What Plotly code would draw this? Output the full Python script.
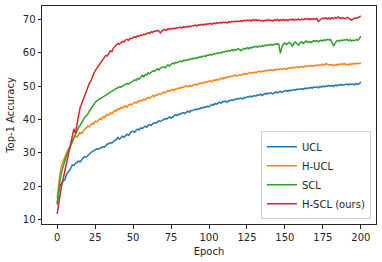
import plotly.graph_objects as go

epochs = list(range(201))

ucl = [
    15.0, 18.6, 20.4, 20.7, 21.6, 21.9, 23.4, 23.9, 24.7, 25.4,
    26.4, 26.2, 26.9, 27.1, 27.6, 27.3, 27.9, 28.6, 28.9, 28.7,
    29.2, 29.6, 30.1, 30.4, 30.6, 30.9, 31.2, 31.1, 31.4, 31.6,
    31.8, 31.7, 32.2, 32.6, 32.8, 33.1, 32.9, 33.5, 33.8, 34.0,
    34.6, 34.1, 34.5, 35.0, 34.7, 35.3, 35.6, 35.2, 36.0, 36.4,
    36.5, 36.2, 36.8, 37.1, 36.9, 37.5, 37.3, 37.8, 38.0, 37.7,
    38.3, 38.5, 38.2, 38.8, 39.0, 38.9, 39.3, 39.6, 39.4, 39.8,
    40.0, 40.3, 40.1, 40.5, 40.8, 40.4, 40.9, 41.1, 41.4, 41.2,
    41.6, 41.5, 41.9, 42.1, 41.8, 42.3, 42.5, 42.2, 42.7, 42.6,
    42.8, 43.1, 42.9, 43.3, 43.2, 43.6, 43.4, 43.8, 43.6, 44.0,
    43.8, 44.2, 44.5, 44.3, 44.8, 44.6, 45.0, 45.2, 44.9, 45.4,
    45.3, 45.5, 45.2, 45.7, 45.6, 45.9, 45.7, 46.1, 46.0, 46.3,
    46.2, 46.4, 46.1, 46.6, 46.5, 46.8, 46.7, 47.0, 46.8, 47.1,
    47.2, 47.0, 47.4, 47.3, 47.6, 47.2, 47.5, 47.8, 47.6, 47.9,
    47.8, 48.0, 47.7, 48.1, 48.3, 48.0, 48.2, 48.4, 48.1, 48.5,
    48.5, 48.7, 48.4, 48.8, 48.6, 48.9, 49.0, 48.8, 49.1, 49.0,
    49.1, 49.3, 49.0, 49.4, 49.2, 49.5, 49.3, 49.6, 49.4, 49.7,
    49.6, 49.8, 49.5, 49.9, 49.7, 50.0, 49.8, 50.1, 49.9, 50.2,
    50.0, 50.2, 49.9, 50.3, 50.1, 50.4, 50.2, 50.5, 50.3, 50.4,
    50.4, 50.6, 50.3, 50.7, 50.5, 50.6, 50.4, 50.8, 50.6, 50.7,
    51.2,
]

h_ucl = [
    16.5, 21.0, 24.2, 26.4, 27.6, 28.4, 30.1, 30.9, 31.6, 32.4,
    33.3, 34.6, 35.1, 34.7, 35.5, 36.1, 35.8, 36.6, 37.0, 37.4,
    38.0, 37.8, 38.4, 38.9, 38.6, 39.5, 39.3, 39.9, 40.2, 40.0,
    40.8, 40.6, 41.1, 41.5, 41.3, 42.0, 41.8, 42.4, 42.7, 42.5,
    43.3, 43.0, 43.6, 43.4, 43.9, 44.0, 43.7, 44.3, 44.6, 44.4,
    44.8, 45.2, 44.9, 45.5, 45.3, 45.8, 45.6, 46.1, 45.9, 46.3,
    46.6, 46.4, 46.9, 47.2, 46.8, 47.4, 47.3, 47.7, 47.5, 47.9,
    48.2, 48.0, 48.4, 48.7, 48.5, 48.8, 49.0, 48.7, 49.2, 49.1,
    49.5, 49.3, 49.7, 49.6, 49.9, 50.1, 49.8, 50.2, 50.0, 50.3,
    50.4, 50.6, 50.3, 50.8, 50.7, 51.0, 50.8, 51.2, 51.1, 51.3,
    51.4, 51.6, 51.3, 51.8, 51.7, 52.0, 51.8, 52.2, 52.4, 52.1,
    52.6, 52.4, 52.8, 52.7, 53.0, 52.8, 53.1, 53.3, 53.0, 53.2,
    53.4, 53.2, 53.6, 53.5, 53.8, 53.6, 53.9, 54.1, 53.8, 54.0,
    54.2, 54.0, 54.3, 54.5, 54.2, 54.6, 54.4, 54.7, 54.5, 54.8,
    54.7, 54.9, 54.6, 55.0, 54.8, 55.1, 54.9, 55.2, 55.0, 55.3,
    55.2, 55.0, 55.4, 55.3, 55.6, 55.4, 55.7, 55.5, 55.8, 55.6,
    55.7, 55.9, 55.6, 56.0, 55.8, 56.1, 55.9, 56.2, 56.0, 56.1,
    56.0, 56.3, 56.1, 56.4, 56.2, 56.6, 56.3, 56.8, 56.5, 56.3,
    56.3, 56.5, 56.1, 56.4, 56.2, 56.6, 56.4, 56.7, 56.5, 56.8,
    56.4, 56.6, 56.3, 56.7, 56.5, 56.8, 56.6, 56.9, 56.7, 56.8,
    56.9,
]

scl = [
    14.5, 18.6, 22.1, 24.4, 26.1, 27.4, 29.1, 29.9, 31.2, 32.0,
    33.6, 34.4, 35.6, 36.9, 37.6, 38.1, 39.0, 40.1, 40.6, 41.0,
    41.5, 42.4, 43.1, 44.0, 44.6, 45.1, 45.5, 45.9, 46.2, 46.4,
    46.7, 46.9, 47.3, 47.7, 47.9, 48.2, 48.5, 48.8, 49.1, 49.3,
    49.5, 49.8, 49.7, 50.1, 50.3, 50.5, 50.8, 50.6, 51.1, 51.3,
    51.5, 51.9, 51.7, 52.3, 52.1, 52.6, 53.2, 52.8, 53.5, 53.3,
    54.0, 53.7, 54.3, 54.6, 54.4, 54.9, 55.2, 54.8, 55.4, 55.6,
    55.8, 55.5, 56.1, 56.4, 56.0, 56.6, 56.9, 56.7, 57.1, 57.0,
    57.2, 57.5, 57.3, 57.7, 57.6, 57.9, 57.7, 58.1, 58.0, 58.3,
    58.2, 58.5, 58.3, 58.7, 58.6, 58.9, 58.8, 59.1, 58.9, 59.3,
    59.2, 59.5, 59.3, 59.7, 59.6, 59.9, 59.7, 60.1, 59.9, 60.3,
    60.2, 60.5, 60.3, 60.7, 60.5, 60.9, 60.6, 61.0, 60.8, 61.2,
    61.0, 60.6, 60.9, 61.3, 61.1, 61.5, 61.2, 61.6, 61.4, 61.8,
    61.7, 61.9, 61.6, 62.0, 61.8, 62.2, 61.9, 62.3, 62.1, 62.4,
    62.3, 62.5, 62.2, 62.6, 62.4, 62.7, 62.5, 59.8, 61.6, 62.6,
    62.9, 62.4, 62.8, 63.1, 62.6, 62.0, 62.9, 63.2, 62.7, 62.3,
    63.0, 63.3, 62.8, 63.2, 63.5, 63.1, 63.4, 63.0, 63.3, 63.6,
    63.4, 63.7, 63.3, 63.6, 63.8, 63.5, 63.9, 63.7, 64.0, 63.8,
    63.9, 63.1, 62.0, 62.8, 63.5, 63.7, 63.4, 63.8, 63.6, 63.9,
    63.8, 64.0, 63.6, 63.9, 63.5, 63.8, 63.6, 64.0, 63.7, 64.2,
    65.0,
]

h_scl = [
    11.7, 15.0, 18.2, 20.6, 22.4, 24.6, 26.4, 28.6, 30.4, 32.6,
    35.0, 37.2, 35.9, 38.6, 42.0, 43.4, 44.6, 45.9, 47.1, 48.4,
    49.5, 50.6, 51.4, 52.8, 53.6, 54.6, 55.2, 55.9, 56.5, 57.3,
    58.0, 58.6, 59.2, 59.0, 59.7, 60.6, 60.3, 61.4, 61.9, 62.5,
    62.8, 62.6, 63.1, 63.4, 63.2, 63.8, 64.0, 63.7, 64.3, 64.2,
    64.5, 64.8, 64.6, 65.1, 64.9, 65.3, 65.1, 65.6, 65.4, 65.8,
    66.0, 65.8, 66.3, 66.1, 66.5, 66.4, 66.7, 66.5, 65.9, 66.6,
    66.8, 67.0, 66.7, 67.2, 67.0, 67.3, 67.1, 67.4, 67.2, 67.5,
    67.5, 67.7, 67.4, 67.8, 67.6, 67.9, 67.7, 68.0, 67.8, 68.1,
    68.1, 68.3, 68.0, 68.4, 68.2, 68.5, 68.3, 68.6, 68.4, 68.7,
    68.6, 68.8, 68.5, 68.9, 68.7, 69.0, 68.8, 69.1, 68.9, 69.2,
    69.0, 69.2, 68.9, 69.3, 69.1, 69.4, 69.2, 69.5, 69.3, 69.5,
    69.3, 69.6, 69.4, 69.7, 69.5, 69.8, 69.6, 69.8, 69.5, 69.9,
    69.7, 69.9, 69.6, 69.8, 69.5, 69.7, 69.4, 69.8, 69.6, 69.9,
    69.6, 69.8, 69.5, 69.9, 69.7, 70.0, 69.6, 69.9, 69.7, 70.0,
    69.7, 69.9, 69.6, 70.0, 69.8, 70.1, 69.7, 70.0, 69.8, 70.1,
    69.8, 70.1, 69.9, 70.2, 70.0, 70.3, 69.9, 70.2, 70.0, 70.3,
    70.0, 70.3, 69.4, 69.9, 70.1, 70.4, 70.2, 70.5, 70.1, 70.4,
    70.1, 70.5, 70.2, 70.6, 70.3, 70.7, 70.4, 70.2, 70.5, 70.3,
    70.2, 70.6, 70.4, 70.0, 69.8, 70.1, 70.4, 70.3, 70.6, 70.8,
    71.0,
]

series_names = ["UCL", "H-UCL", "SCL", "H-SCL (ours)"]
series_values = [ucl, h_ucl, scl, h_scl]
colors = ["#1f77b4", "#ff7f0e", "#2ca02c", "#d62728"]

x_ticks = [0, 25, 50, 75, 100, 125, 150, 175, 200]
y_ticks = [10, 20, 30, 40, 50, 60, 70]

fig = go.Figure()
for name, vals, c in zip(series_names, series_values, colors):
    fig.add_trace(go.Scatter(x=epochs, y=vals, mode="lines", name=name,
                             line=dict(color=c, width=1.5)))

axis_common = dict(showgrid=False, zeroline=False, showline=True, linecolor="#262626",
                   linewidth=1, mirror=True, ticks="outside", ticklen=3.5,
                   tickwidth=1, tickcolor="#262626", automargin=False,
                   tickfont=dict(family="DejaVu Sans", size=10, color="#262626"))

fig.update_layout(
    width=382, height=262,
    margin=dict(l=42, r=6, t=6, b=38),
    paper_bgcolor="white", plot_bgcolor="white",
    font=dict(family="DejaVu Sans", size=10, color="#262626"),
    xaxis=dict(range=[-10, 210], tickvals=x_ticks,
               title=dict(text="Epoch", font=dict(size=10), standoff=6), **axis_common),
    yaxis=dict(range=[8.7, 74.0], tickvals=y_ticks,
               title=dict(text="Top-1 Accuracy", font=dict(size=10), standoff=6), **axis_common),
    legend=dict(x=0.985, y=0.022, xanchor="right", yanchor="bottom",
                bgcolor="rgba(255,255,255,0.8)", bordercolor="#cccccc", borderwidth=1,
                font=dict(size=10, family="DejaVu Sans"), itemwidth=30,
                tracegroupgap=0),
    showlegend=True,
)

fig.write_html("out.html", config={"displayModeBar": False},
               post_script="document.body.style.margin='0px';document.body.style.padding='0px';")
